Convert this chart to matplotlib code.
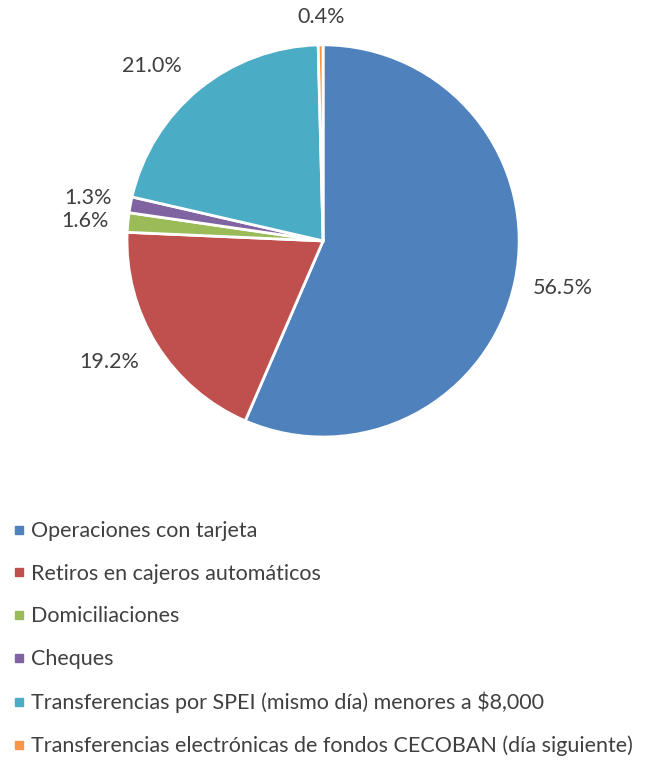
import matplotlib.pyplot as plt
import numpy as np
from matplotlib.lines import Line2D

plt.rcParams['font.family'] = ['Lato', 'DejaVu Sans']

# datos
categorias = ["Operaciones con tarjeta",
              "Retiros en cajeros automáticos",
              "Domiciliaciones",
              "Cheques",
              "Transferencias por SPEI (mismo día) menores a $8,000",
              "Transferencias electrónicas de fondos CECOBAN (día siguiente)"]
porcentajes = [56.5, 19.2, 1.6, 1.3, 21.0, 0.4]
colores = ["#4F81BD", "#C0504D", "#9BBB59", "#8064A2", "#4BACC6", "#F79646"]

# ajuste de las etiquetas (distancia radial y giro en grados)
dist_etiqueta = [1.245, 1.254, 1.22, 1.217, 1.246, 1.14]
giro_etiqueta = [0.6, -2.5, 0.7, 0.3, 5.1, -0.2]

gris = "#404040"

fig = plt.figure(figsize=(6.45, 7.6), dpi=100)
ax = fig.add_axes([0.1969, 0.425, 0.608, 0.516])

wedges, _ = ax.pie(porcentajes, colors=colores, startangle=90, counterclock=False,
                   wedgeprops=dict(edgecolor="white", linewidth=2))
ax.set_xlim(-1, 1)
ax.set_ylim(-1, 1)
ax.set_aspect("equal")
ax.axis("off")

# etiquetas de porcentaje
for w, p, d, g in zip(wedges, porcentajes, dist_etiqueta, giro_etiqueta):
    ang = np.deg2rad((w.theta1 + w.theta2) / 2 + g)
    ax.text(d * np.cos(ang), d * np.sin(ang), f"{p:.1f}%", ha="center", va="center",
            fontsize=15.5, color=gris)

# leyenda
handles = [Line2D([], [], marker="s", linestyle="none", markersize=6,
                  markerfacecolor=c, markeredgecolor=c) for c in colores]
fig.legend(handles, categorias, loc="upper left", bbox_to_anchor=(-0.003, 0.334),
           frameon=False, fontsize=15.5, labelcolor=gris, handlelength=0.5,
           handletextpad=0.35, labelspacing=1.05, borderaxespad=0.3)

fig.savefig("out.png", dpi=100)
